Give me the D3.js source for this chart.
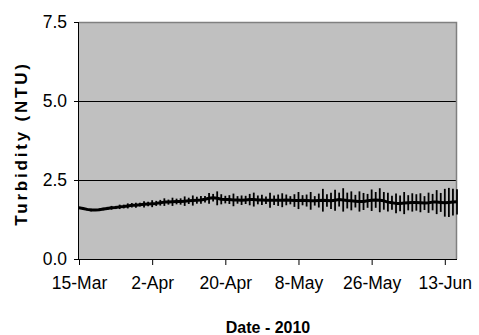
<!DOCTYPE html>
<html><head><meta charset="utf-8">
<script src="https://cdn.jsdelivr.net/npm/d3@7"></script>
<style>body{margin:0;background:#fff}svg{display:block}</style>
</head><body>
<svg id="c" width="479" height="335"></svg>
<script>
// Daily turbidity means (NTU) starting 15-Mar-2010
const startDate = "2010-03-15";
const endDate = "2010-06-16";
const meanValues = [
1.62,1.60,1.57,1.55,1.55,1.56,1.58,
1.60,1.62,1.63,1.65,1.66,1.68,1.70,
1.70,1.72,1.73,1.74,1.75,1.76,1.78,
1.80,1.80,1.81,1.82,1.82,1.83,1.84,
1.85,1.86,1.87,1.89,1.92,1.94,1.92,
1.89,1.88,1.88,1.87,1.87,1.86,1.87,
1.88,1.88,1.87,1.87,1.86,1.86,1.86,
1.86,1.86,1.87,1.86,1.85,1.85,1.86,
1.85,1.84,1.84,1.85,1.86,1.85,1.84,
1.86,1.88,1.87,1.85,1.84,1.83,1.82,
1.82,1.84,1.86,1.87,1.86,1.84,1.80,
1.78,1.76,1.76,1.77,1.78,1.79,1.79,
1.78,1.77,1.78,1.80,1.80,1.79,1.78,
1.79,1.80,1.81
];
// Error bar half-widths (NTU)
const errValues = [
0.03,0.03,0.03,0.04,0.03,0.04,0.04,
0.05,0.06,0.05,0.07,0.06,0.08,0.07,
0.08,0.06,0.10,0.07,0.11,0.08,0.09,
0.12,0.08,0.13,0.09,0.10,0.15,0.10,
0.16,0.11,0.12,0.10,0.17,0.12,0.22,
0.16,0.12,0.14,0.20,0.12,0.15,0.13,
0.18,0.22,0.14,0.16,0.12,0.24,0.15,
0.18,0.22,0.17,0.13,0.20,0.27,0.16,
0.19,0.28,0.15,0.22,0.36,0.20,0.26,
0.33,0.22,0.37,0.25,0.30,0.20,0.32,
0.27,0.22,0.34,0.25,0.38,0.28,0.30,
0.22,0.31,0.25,0.35,0.24,0.29,0.26,
0.30,0.22,0.32,0.26,0.38,0.30,0.44,
0.46,0.42,0.40
];
const xTickLabels = ["15-Mar","2-Apr","20-Apr","8-May","26-May","13-Jun"];
const yTickValues = [0, 2.5, 5.0, 7.5];
const xTitle = "Date - 2010";
const yTitle = "Turbidity (NTU)";

const parse = d3.timeParse("%Y-%m-%d");
const t0 = parse(startDate);
const data = meanValues.map((v,i)=>({date:d3.timeDay.offset(t0,i), mean:v, err:errValues[i]}));

const L=79, R=457, T=22, B=259;
const svg = d3.select("#c");
const x = d3.scaleTime().domain([t0, parse(endDate)]).range([L,R]);
const y = d3.scaleLinear().domain([0,7.5]).range([B,T]);

svg.append("rect").attr("x",L).attr("y",T).attr("width",R-L).attr("height",B-T).attr("fill","#C0C0C0");

// gridlines
svg.append("g").selectAll("line").data(yTickValues.filter(v=>v>0&&v<7.5)).join("line")
  .attr("x1",L).attr("x2",R).attr("y1",d=>y(d)).attr("y2",d=>y(d))
  .attr("stroke","#000").attr("stroke-width",1).attr("shape-rendering","crispEdges");

// border top/right
svg.append("path").attr("d",`M${L},${T+0.5}H${R-0.5}V${B}`).attr("fill","none")
  .attr("stroke","#808080").attr("stroke-width",1.5);

// error bars
svg.append("g").selectAll("line").data(data).join("line")
  .attr("x1",d=>x(d.date)).attr("x2",d=>x(d.date))
  .attr("y1",d=>y(d.mean-d.err)).attr("y2",d=>y(d.mean+d.err))
  .attr("stroke","#000").attr("stroke-width",1.8);

// mean line
svg.append("path").datum(data)
  .attr("d",d3.line().x(d=>x(d.date)).y(d=>y(d.mean)))
  .attr("fill","none").attr("stroke","#000").attr("stroke-width",3).attr("stroke-linejoin","round");

// axes
const xTicks = xTickLabels.map((s,i)=>d3.timeDay.offset(t0,i*18));
const xAxis = d3.axisBottom(x).tickValues(xTicks).tickFormat((d,i)=>xTickLabels[i]).tickSize(6).tickPadding(12);
const gx = svg.append("g").attr("transform",`translate(0,${B})`).call(xAxis);
gx.select(".domain").attr("d",`M${L},0.5H${R}`).attr("stroke","#000");
gx.selectAll(".tick line").attr("stroke","#000");
gx.selectAll("text").attr("font-family","Liberation Sans, Arial, sans-serif").attr("font-size","17.5px").attr("fill","#000");

const yAxis = d3.axisLeft(y).tickValues(yTickValues).tickFormat(d3.format(".1f")).tickSize(5).tickPadding(7);
const gy = svg.append("g").attr("transform",`translate(${L},0)`).call(yAxis);
gy.select(".domain").attr("d",`M-0.5,${T}V${B}`).attr("stroke","#000");
gy.selectAll(".tick line").attr("stroke","#000");
gy.selectAll("text").attr("font-family","Liberation Sans, Arial, sans-serif").attr("font-size","17.5px").attr("fill","#000");

svg.append("text").attr("x",(L+R)/2).attr("y",333).attr("text-anchor","middle")
  .attr("font-family","Liberation Sans, Arial, sans-serif").attr("font-weight","bold").attr("font-size","16px")
  .text(xTitle);
svg.append("text").attr("transform",`translate(27,${(T+B)/2+3}) rotate(-90)`).attr("text-anchor","middle")
  .attr("font-family","Liberation Sans, Arial, sans-serif").attr("font-weight","bold").attr("font-size","17px")
  .attr("letter-spacing","2.8px")
  .text(yTitle);
</script>
</body></html>
